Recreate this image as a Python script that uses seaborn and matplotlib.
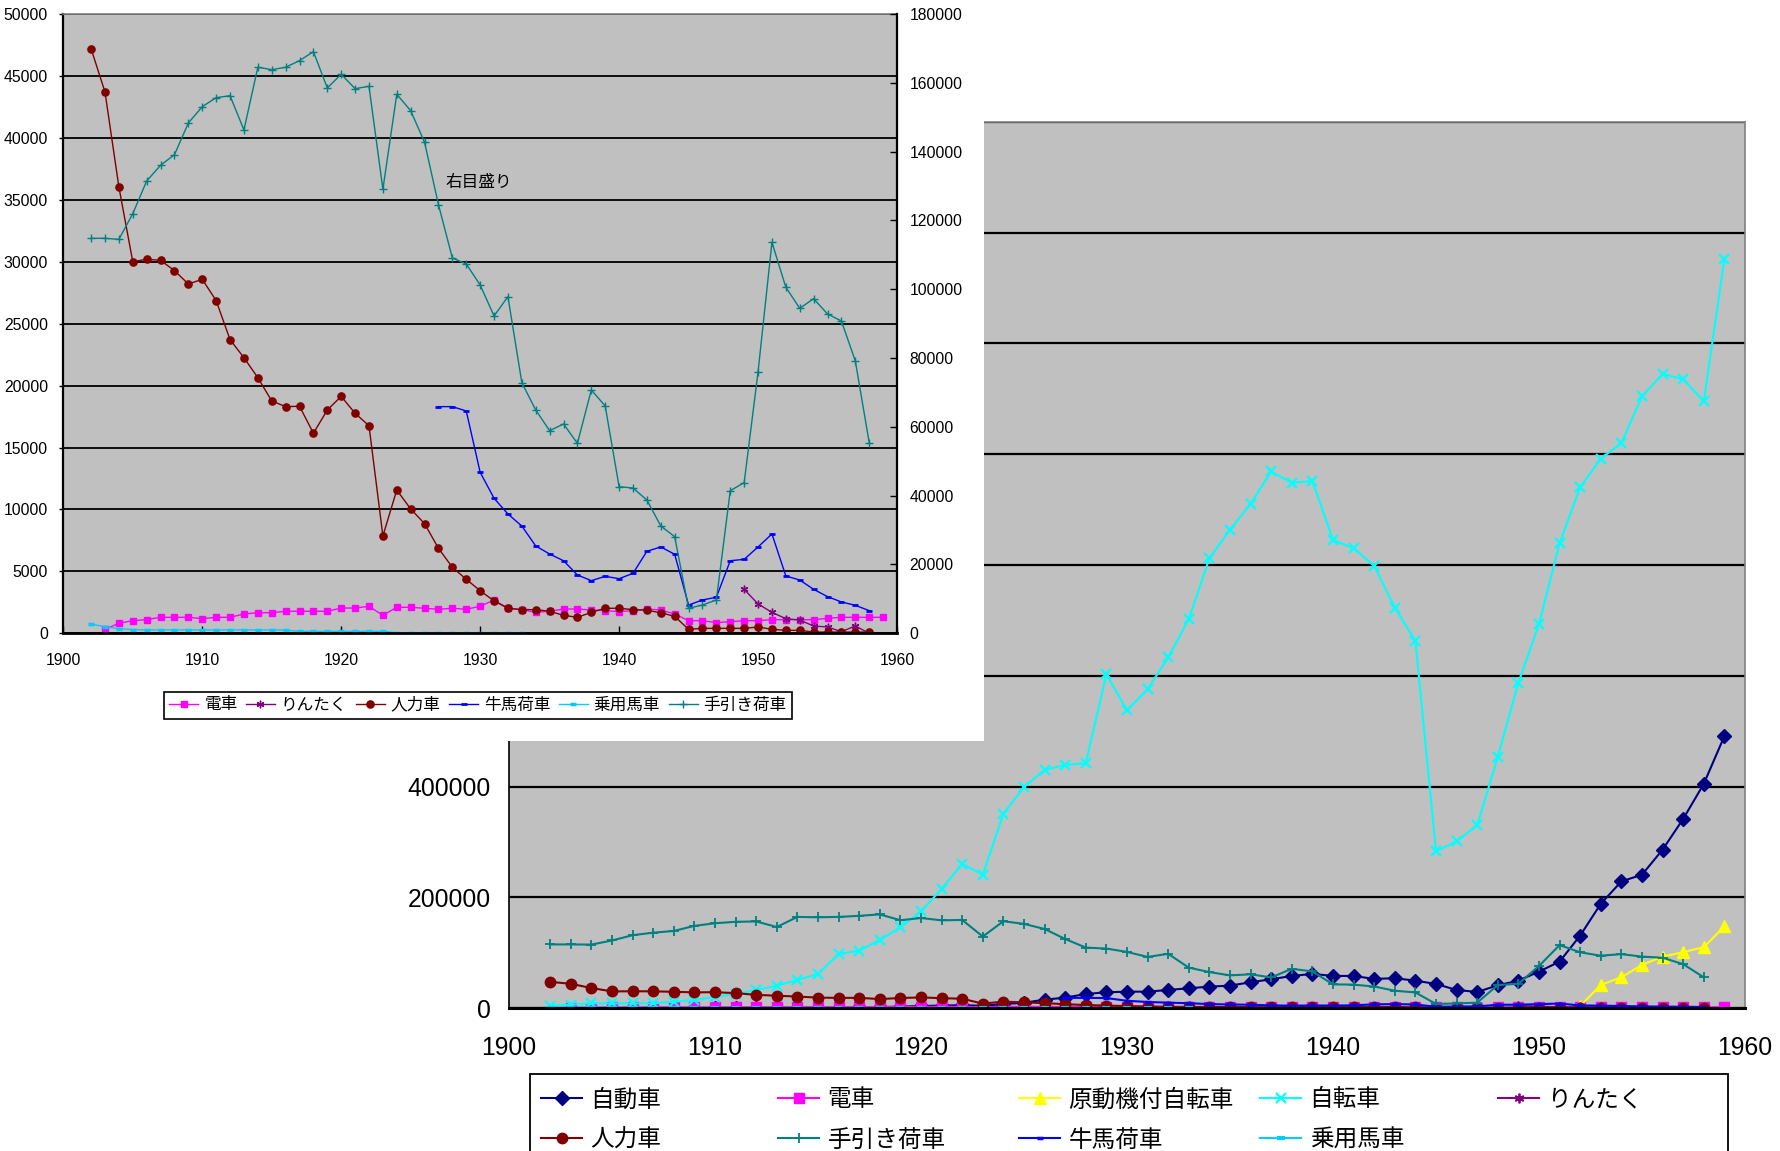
import numpy as np
import matplotlib
matplotlib.use("Agg")
import matplotlib.pyplot as plt
from matplotlib import font_manager as fm
from matplotlib.patches import Rectangle
from matplotlib.ticker import FuncFormatter
import seaborn as sns

W, H = 1781, 1151
DPI = 100

# ---------------- data: vehicle counts by year ----------------
# each series: first year + yearly values
jidosha_start = 1907  # 自動車
jidosha = [20, 30, 60, 120, 200, 300, 500, 600, 700, 800, 1200, 1700, 2500, 3500,
           4500, 5000, 4000, 7000, 9500, 15000, 18700, 25300, 28400, 29500, 29500,
           32600, 35600, 38600, 40400, 46500, 51900, 57900, 61500, 57900, 57900,
           52500, 53800, 49400, 43400, 32600, 28900, 41000, 49400, 65700, 83800,
           130900, 188200, 228600, 240700, 286000, 341500, 404900, 491000]

densha_start = 1903  # 電車
densha = [320, 810, 1020, 1100, 1290, 1290, 1290, 1180, 1290, 1290, 1560, 1660, 1660,
          1780, 1780, 1780, 1780, 2040, 2040, 2180, 1450, 2100, 2100, 2020, 1940, 2020,
          1940, 2180, 2690, 2020, 1910, 1690, 1780, 1960, 1960, 1880, 1830, 1750, 1830,
          1960, 1880, 1560, 1020, 1020, 860, 940, 1020, 1020, 1100, 1100, 1100, 1100,
          1210, 1290, 1290, 1290, 1290]

gentsuki_start = 1952  # 原動機付自転車
gentsuki = [3600, 41600, 55500, 77800, 92900, 100800, 109900, 147200]

jitensha_start = 1902  # 自転車
jitensha = [4200, 6000, 8300, 8300, 8300, 8300, 11400, 14400, 20400, 25300, 32500,
            40300, 50600, 61400, 97600, 103500, 122900, 145600, 174500, 215000, 260200,
            240800, 351000, 399000, 430000, 439000, 442000, 602700, 537600, 575600,
            633000, 702300, 812100, 863900, 910400, 968900, 948400, 951500, 845300,
            830200, 798700, 722800, 663000, 282900, 301000, 330000, 453800, 587700,
            693200, 839300, 940600, 991900, 1020300, 1104600, 1145100, 1135400,
            1095600, 1352600]

rintaku_start = 1949  # りんたく
rintaku = [3550, 2370, 1690, 1180, 1070, 590, 510, 130, 590, 0]

jinrikisha_start = 1902  # 人力車
jinrikisha = [47200, 43700, 36040, 30000, 30200, 30110, 29280, 28200, 28580, 26860,
              23710, 22250, 20640, 18760, 18300, 18330, 16150, 18030, 19130, 17760,
              16760, 7860, 11570, 10040, 8850, 6860, 5330, 4360, 3440, 2610, 2020, 1910,
              1910, 1780, 1450, 1290, 1690, 2020, 2020, 1910, 1860, 1660, 1370, 320, 400,
              400, 400, 400, 510, 320, 240, 240, 100, 100, 100, 100, 100]

tebiki_start = 1902  # 手引き荷車
tebiki = [114800, 114800, 114500, 121960, 131470, 136030, 139110, 148320, 153060,
          155680, 156260, 146290, 164520, 163820, 164520, 166440, 169050, 158500,
          162480, 158300, 158990, 129050, 156670, 151900, 142710, 124580, 109090,
          107340, 101240, 92230, 97840, 72840, 64900, 58890, 60840, 55220, 70720,
          66070, 42610, 42230, 38740, 31190, 28080, 7270, 8230, 9680, 41450, 43780,
          75950, 113640, 100570, 94460, 97250, 92810, 90770, 79150, 55400]

gyuba_start = 1927  # 牛馬荷車
gyuba = [18300, 18300, 17950, 13000, 10900, 9630, 8660, 7050, 6400, 5860, 4710, 4250,
         4600, 4410, 4840, 6620, 6970, 6380, 2280, 2690, 2910, 5860, 5970, 6970, 8020,
         4630, 4300, 3550, 2960, 2530, 2260, 1830]

joyo_start = 1902  # 乗用馬車
joyo = [750, 530, 370, 300, 270, 270, 270, 270, 270, 270, 270, 270, 270, 270, 250,
        160, 160, 160, 160, 160, 160, 160, 50, 50, 50, 50, 50, 50, 50, 50, 50, 50]

big_labels = ["自動車", "電車", "原動機付自転車", "自転車", "りんたく",
              "人力車", "手引き荷車", "牛馬荷車", "乗用馬車"]
small_labels = ["電車", "りんたく", "人力車", "牛馬荷車", "乗用馬車", "手引き荷車"]
x_ticks = list(range(1900, 1961, 10))
small_left_ticks = list(range(0, 50001, 5000))
small_right_ticks = list(range(0, 180001, 20000))
big_y_ticks = list(range(0, 1600001, 200000))

# ---------------- fonts ----------------
installed = {f.name for f in fm.fontManager.ttflist}
if "Liberation Sans Narrow" in installed:
    num_font, small_num_size, big_num_size = "Liberation Sans Narrow", 12.5, 20.0
else:
    num_font, small_num_size, big_num_size = "Liberation Sans", 11.3, 17.8
JP = "Noto Sans CJK JP"
plt.rcParams["font.family"] = [num_font, JP, "DejaVu Sans"]

COL = {
    "自動車": "#000080", "電車": "#FF00FF", "原動機付自転車": "#FFFF00",
    "自転車": "#00FFFF", "りんたく": "#800080", "人力車": "#800000",
    "手引き荷車": "#008080", "牛馬荷車": "#0000FF", "乗用馬車": "#00CCFF",
}
STAR = (6, 2, 0)


def fx(px):
    return px / W


def fy(py):
    return 1 - py / H


def draw(ax, start, vals, color, marker, ms, lw, mew=1.0):
    yrs = np.arange(start, start + len(vals))
    sns.lineplot(x=yrs, y=vals, ax=ax, color=color, marker=marker, markersize=ms,
                 linewidth=lw, markeredgecolor=color, markerfacecolor=color,
                 markeredgewidth=mew, estimator=None, errorbar=None, legend=False)
    return ax.lines[-1]


fig = plt.figure(figsize=(W / DPI, H / DPI), dpi=DPI, facecolor="white")

# ================= large chart (all vehicles) =================
big = fig.add_axes([fx(509), fy(1008), (1745 - 509) / W, (1008 - 122) / H], zorder=0)
big.set_facecolor("#C0C0C0")
big.set_axisbelow(True)
big.grid(axis="y", color="black", linewidth=1.6)
big.grid(axis="x", visible=False)

blw = 1.5
h_big = {}
h_big["自動車"] = draw(big, jidosha_start, jidosha, COL["自動車"], "D", 7, blw)
h_big["電車"] = draw(big, densha_start, densha, COL["電車"], "s", 6.5, blw)
h_big["原動機付自転車"] = draw(big, gentsuki_start, gentsuki, COL["原動機付自転車"], "^", 8, blw)
h_big["自転車"] = draw(big, jitensha_start, jitensha, COL["自転車"], "x", 6.5, blw, mew=1.6)
h_big["りんたく"] = draw(big, rintaku_start, rintaku, COL["りんたく"], STAR, 7, blw, mew=1.3)
h_big["人力車"] = draw(big, jinrikisha_start, jinrikisha, COL["人力車"], "o", 7.5, blw)
h_big["手引き荷車"] = draw(big, tebiki_start, tebiki, COL["手引き荷車"], "+", 7, blw, mew=1.3)
h_big["牛馬荷車"] = draw(big, gyuba_start, gyuba, COL["牛馬荷車"], "_", 5, blw, mew=2.5)
h_big["乗用馬車"] = draw(big, joyo_start, joyo, COL["乗用馬車"], "_", 6, blw, mew=3)

big.set_xlim(1900, 1960)
big.set_ylim(0, 1600000)
big.set_xticks(x_ticks)
big.set_yticks(big_y_ticks)
big.yaxis.set_major_formatter(FuncFormatter(lambda v, p: f"{int(v)}"))
big.tick_params(axis="both", length=0, labelsize=big_num_size)
big.tick_params(axis="x", pad=20)
big.tick_params(axis="y", pad=13)
big.set_xlabel("")
big.set_ylabel("")
for side, c, w in [("left", "black", 1.2), ("bottom", "black", 2.2),
                   ("top", "#808080", 1.2), ("right", "#808080", 1.2)]:
    big.spines[side].set_color(c)
    big.spines[side].set_linewidth(w)

# legend of the large chart: 5 columns x 2 rows inside a frame
fig.add_artist(Rectangle((fx(530), fy(1175)), (1728 - 530) / W, (1175 - 1074) / H,
                         transform=fig.transFigure, fill=False, edgecolor="black",
                         linewidth=1.3, zorder=1))
col_x = [541, 778, 1019, 1260, 1498]
row_y = [1100, 1140]
for i, lab in enumerate(big_labels):
    r, c = divmod(i, 5)
    fig.legend(handles=[h_big[lab]], labels=[lab], loc="center left",
               bbox_to_anchor=(fx(col_x[c]), fy(row_y[r])), frameon=False,
               borderpad=0, borderaxespad=0, handlelength=1.75, handletextpad=0.35,
               prop=fm.FontProperties(family=JP, size=17))

# white chart area of the inset chart
fig.add_artist(Rectangle((0, fy(741)), 984 / W, 741 / H, transform=fig.transFigure,
                         facecolor="white", edgecolor="none", zorder=1))

# ================= inset chart (non-motor vehicles) =================
ax = fig.add_axes([fx(63.3), fy(633.3), (897 - 63.3) / W, (633.3 - 14) / H], zorder=2)
ax.set_facecolor("#C0C0C0")
ax.set_axisbelow(True)
ax.grid(axis="y", color="black", linewidth=1.3)
ax.grid(axis="x", visible=False)

slw = 1.0
h_small = {}
h_small["電車"] = draw(ax, densha_start, densha, COL["電車"], "s", 5, slw)
h_small["りんたく"] = draw(ax, rintaku_start, rintaku, COL["りんたく"], STAR, 5.5, slw, mew=1.0)
h_small["人力車"] = draw(ax, jinrikisha_start, jinrikisha, COL["人力車"], "o", 5.2, slw)
h_small["牛馬荷車"] = draw(ax, gyuba_start, gyuba, COL["牛馬荷車"], "_", 4, slw, mew=2)
h_small["乗用馬車"] = draw(ax, joyo_start, joyo, COL["乗用馬車"], "_", 5, slw, mew=2.5)

ax.set_xlim(1900, 1960)
ax.set_ylim(0, 50000)
ax.set_xticks(x_ticks)
ax.set_yticks(small_left_ticks)
ax.yaxis.set_major_formatter(FuncFormatter(lambda v, p: f"{int(v)}"))
ax.tick_params(axis="x", direction="in", length=5, width=1, pad=14, labelsize=small_num_size)
ax.tick_params(axis="y", direction="out", length=3, width=1, pad=8, labelsize=small_num_size)
ax.set_xlabel("")
ax.set_ylabel("")
ax.spines["left"].set_linewidth(1.6)
ax.spines["bottom"].set_linewidth(2.0)
ax.spines["top"].set_color("#808080")
ax.spines["top"].set_linewidth(1.2)
ax.spines["right"].set_visible(False)

ax2 = ax.twinx()
ax2.set_zorder(3)
h_small["手引き荷車"] = draw(ax2, tebiki_start, tebiki, COL["手引き荷車"], "+", 5.5, slw, mew=1.0)
ax2.set_ylim(0, 180000)
ax2.set_yticks(small_right_ticks)
ax2.yaxis.set_major_formatter(FuncFormatter(lambda v, p: f"{int(v)}"))
ax2.tick_params(axis="y", direction="in", length=5, width=1, pad=9, labelsize=small_num_size)
ax2.set_ylabel("")
for side in ["left", "top", "bottom"]:
    ax2.spines[side].set_visible(False)
ax2.spines["right"].set_linewidth(1.6)
ax2.spines["right"].set_color("black")

fig.text(fx(446), fy(182), "右目盛り", ha="left", va="center",
         fontsize=12, family=[JP], zorder=4)

leg = fig.legend(handles=[h_small[k] for k in small_labels], labels=small_labels,
                 loc="center", bbox_to_anchor=(fx(478), fy(705)), ncol=6,
                 frameon=True, fancybox=False, edgecolor="black", framealpha=1,
                 borderpad=0.3, borderaxespad=0, handlelength=1.75,
                 handletextpad=0.35, columnspacing=0.5,
                 prop=fm.FontProperties(family=JP, size=12))
leg.get_frame().set_linewidth(1.2)
leg.set_zorder(6)

fig.savefig("out.png", dpi=DPI, facecolor="white")
